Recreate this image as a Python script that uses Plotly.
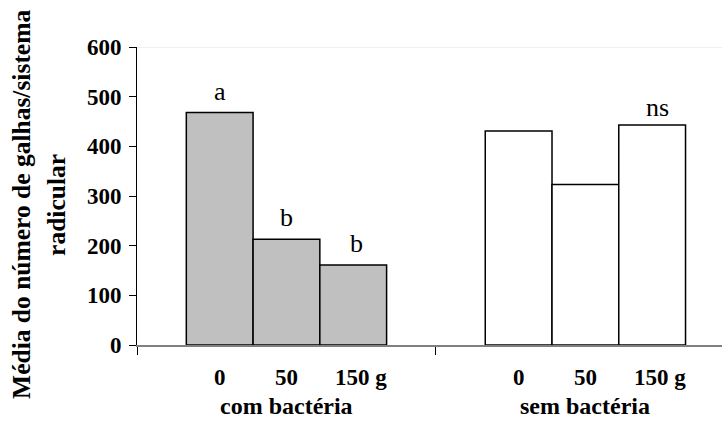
import plotly.graph_objects as go

groups = ["com bactéria", "sem bactéria"]
doses = ["0", "50", "150 g"]
com_values = [468, 213, 161]
sem_values = [431, 323, 443]
com_letters = ["a", "b", "b"]
sem_letters = ["", "", "ns"]
group_colors = ["#c0c0c0", "#ffffff"]
y_ticks = [0, 100, 200, 300, 400, 500, 600]

SERIF = "Times New Roman, Liberation Serif, serif"
BARGAP = 0.33
bar_w = (1 - BARGAP) / len(doses)

fig = go.Figure()
for j, d in enumerate(doses):
    fig.add_trace(go.Bar(
        x=groups,
        y=[com_values[j], sem_values[j]],
        marker=dict(color=group_colors, line=dict(color="black", width=1.5)),
        name=d,
    ))

dose_font = dict(family=SERIF, size=23, color="black", weight="bold")
group_font = dict(family=SERIF, size=24, color="black", weight="bold")
letter_font = dict(family=SERIF, size=26, color="black")

annotations = []
group_vals = [com_values, sem_values]
group_letters = [com_letters, sem_letters]
for gi, g in enumerate(groups):
    for j, d in enumerate(doses):
        # significance letters above bars
        if group_letters[gi][j]:
            annotations.append(dict(
                x=gi + (j - 1) * bar_w, y=group_vals[gi][j], xref="x", yref="y",
                text=group_letters[gi][j], showarrow=False,
                xanchor="center", yanchor="bottom",
                xshift=5 if gi == 1 else (3 if j == 2 else 0),
                yshift=1 if gi == 1 else 5,
                font=letter_font,
            ))
        # dose labels under each bar
        annotations.append(dict(
            x=gi + (j - 1) * bar_w, y=0, xref="x", yref="y",
            text=d, showarrow=False,
            xanchor="center", yanchor="middle",
            xshift=8 if d.endswith("g") else 0, yshift=-32,
            font=dose_font,
        ))
    annotations.append(dict(
        x=gi, y=0, xref="x", yref="y",
        text=g, showarrow=False,
        xanchor="center", yanchor="middle", yshift=-61,
        font=group_font,
    ))

# y-axis title (two lines)
title_font = dict(family=SERIF, size=25.5, color="black", weight="bold")
annotations.append(dict(
    x=-115 / 585, y=0.47, xref="paper", yref="paper",
    text="Média do número de galhas/sistema", showarrow=False,
    textangle=-90, xanchor="center", yanchor="middle",
    font=title_font,
))
annotations.append(dict(
    x=-80 / 585, y=0.47, xref="paper", yref="paper",
    text="radicular", showarrow=False,
    textangle=-90, xanchor="center", yanchor="middle",
    font=title_font,
))

fig.update_layout(
    width=722, height=421,
    margin=dict(l=137, r=0, t=47, b=76, pad=0),
    barmode="group", bargap=BARGAP, bargroupgap=0,
    showlegend=False,
    font=dict(family=SERIF),
    plot_bgcolor="white", paper_bgcolor="white",
    annotations=annotations,
    shapes=[dict(type="line", xref="paper", yref="y", x0=0, x1=1, y0=600, y1=600,
                 line=dict(color="#e0e0e0", width=1))],
    xaxis=dict(
        type="category", range=[-0.5, 1.457], tickson="boundaries",
        ticks="outside", ticklen=8, tickcolor="black", tickwidth=1,
        showticklabels=False, showline=True, linecolor="#808080", linewidth=1.5,
        showgrid=False, zeroline=False,
    ),
    yaxis=dict(
        range=[0, 600], tickvals=y_ticks, ticks="outside", ticklen=7,
        tickcolor="black", tickwidth=1, showline=True, linecolor="black", linewidth=1,
        showgrid=False, zeroline=False, ticklabelstandoff=3,
        tickfont=dict(family=SERIF, size=23, color="black", weight="bold"),
    ),
)

fig.write_html("out.html")
